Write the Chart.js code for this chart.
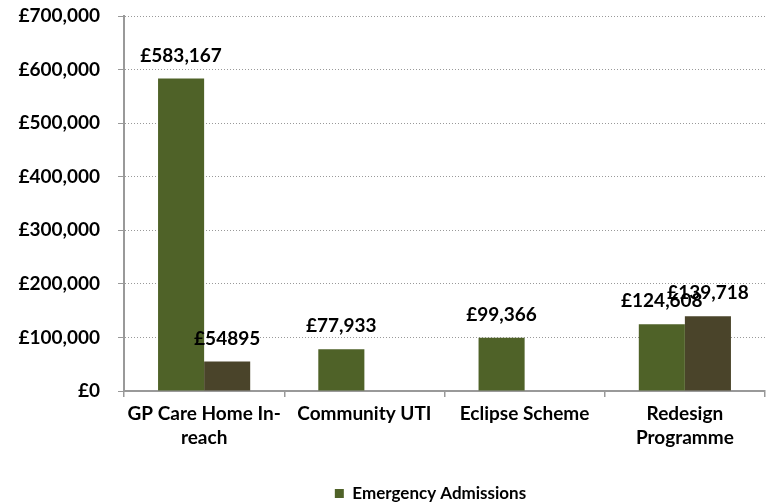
<!DOCTYPE html>
<html>
<head>
<meta charset="utf-8">
<script src="https://cdn.jsdelivr.net/npm/chart.js@4"></script>
<style>
  html, body { margin: 0; padding: 0; background: #fff; }
</style>
</head>
<body>
<canvas id="myChart" width="767" height="502"></canvas>
<script>
'use strict';

// chart data
const categories = [['GP Care Home In-', 'reach'], 'Community UTI', 'Eclipse Scheme', ['Redesign', 'Programme']];
const admissionValues = [583167, 77933, 99366, 124608];
const otherValues = [54895, null, null, 139718];
const admissionLabels = ['£583,167', '£77,933', '£99,366', '£124,608'];
const otherLabels = ['£54895', '', '', '£139,718'];
const yTicks = [0, 100000, 200000, 300000, 400000, 500000, 600000, 700000];

const FONT = 'Lato, "Open Sans", sans-serif';

// draws the value text above every bar
const barLabels = {
  id: 'barLabels',
  afterDatasetsDraw(chart) {
    const ctx = chart.ctx;
    ctx.save();
    ctx.font = 'bold 19px ' + FONT;
    ctx.fillStyle = '#000';
    ctx.textAlign = 'center';
    ctx.textBaseline = 'middle';
    chart.data.datasets.forEach((ds, i) => {
      const meta = chart.getDatasetMeta(i);
      meta.data.forEach((bar, j) => {
        const txt = ds.valueLabels[j];
        if (!txt) return;
        ctx.fillText(txt, bar.x, bar.y - 23);
      });
    });
    ctx.restore();
  }
};

// the legend in the original sits a bit right of the centre
const legendShift = {
  id: 'legendShift',
  afterLayout(chart) {
    chart.legend.left += 48;
    chart.legend.right += 48;
  }
};

const ctx = document.getElementById('myChart').getContext('2d');
const chart = new Chart(ctx, {
  type: 'bar',
  data: {
    labels: categories,
    datasets: [{
      label: 'Emergency Admissions',
      data: admissionValues,
      valueLabels: admissionLabels,
      backgroundColor: '#4F6228',
      borderWidth: 0
    }, {
      label: 'Other',
      data: otherValues,
      valueLabels: otherLabels,
      backgroundColor: '#4A442A',
      borderWidth: 0
    }]
  },
  options: {
    responsive: false,
    animation: false,
    devicePixelRatio: 1,
    layout: { padding: { top: 16, right: 2, left: 0, bottom: -10 } },
    datasets: { bar: { categoryPercentage: 0.575, barPercentage: 1 } },
    scales: {
      x: {
        grid: { drawOnChartArea: false, offset: true, color: '#999', tickLength: 6, lineWidth: 1.5 },
        border: { color: '#999', width: 2 },
        ticks: { color: '#000', font: { family: FONT, weight: 'bold', size: 19, lineHeight: 1.25 }, padding: 5, maxRotation: 0, autoSkip: false },
        afterFit(scale) { scale.height = 91; }
      },
      y: {
        min: 0,
        max: 700000,
        afterBuildTicks(scale) { scale.ticks = yTicks.map(v => ({ value: v })); },
        grid: { color: '#999', tickLength: 6, tickColor: '#999', tickBorderDash: [] },
        border: { color: '#999', width: 2, dash: [1, 2] },
        ticks: {
          color: '#000',
          padding: 18,
          font: { family: FONT, weight: 'bold', size: 19 },
          callback: v => '£' + v.toLocaleString('en-GB')
        },
        afterFit(scale) {
          scale.width = 124;
          scale.paddingTop = 0;
          scale.paddingBottom = 0;
        }
      }
    },
    plugins: {
      legend: {
        position: 'bottom',
        labels: {
          color: '#000',
          font: { family: FONT, weight: 'bold', size: 17 },
          boxWidth: 9,
          boxHeight: 9,
          padding: 3,
          filter: item => item.datasetIndex === 0
        }
      },
      tooltip: { enabled: false }
    }
  },
  plugins: [barLabels, legendShift]
});
</script>
</body>
</html>
